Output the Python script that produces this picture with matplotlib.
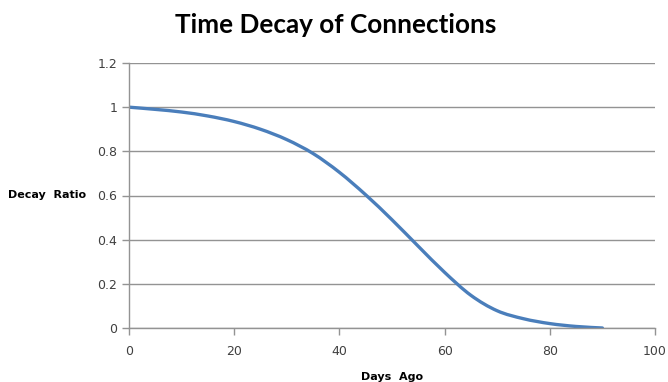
import matplotlib
matplotlib.use('Agg')
import matplotlib.pyplot as plt
from matplotlib.path import Path
from matplotlib.patches import PathPatch

# decay ratio read every 5 days
days = [0, 5, 10, 15, 20, 25, 30, 35, 40, 45, 50, 55, 60, 65, 70, 75, 80, 85, 90]
ratio = [1.0, 0.99, 0.978, 0.96, 0.935, 0.90, 0.853, 0.79, 0.705, 0.603, 0.49,
         0.37, 0.252, 0.148, 0.078, 0.042, 0.02, 0.007, 0.0]

xticks = [0, 20, 40, 60, 80, 100]
yticks = [0, 0.2, 0.4, 0.6, 0.8, 1.0, 1.2]
ytick_labels = ['0', '0.2', '0.4', '0.6', '0.8', '1', '1.2']

axis_grey = '#939393'
text_grey = '#404040'


# smoothed line through the points (cubic bezier segments, catmull-rom style)
def smooth_path(x, y):
    pts = list(zip(x, y))
    n = len(pts)
    verts = [pts[0]]
    codes = [Path.MOVETO]
    for i in range(n - 1):
        p0 = pts[max(i - 1, 0)]
        p1 = pts[i]
        p2 = pts[i + 1]
        p3 = pts[min(i + 2, n - 1)]
        c1 = (p1[0] + (p2[0] - p0[0]) / 6, p1[1] + (p2[1] - p0[1]) / 6)
        c2 = (p2[0] - (p3[0] - p1[0]) / 6, p2[1] - (p3[1] - p1[1]) / 6)
        verts += [c1, c2, p2]
        codes += [Path.CURVE4] * 3
    return Path(verts, codes)


fig = plt.figure(figsize=(6.68, 3.82), dpi=100)
ax = fig.add_axes([129 / 668, 1 - 328 / 382, 526 / 668, 265 / 382])

ax.add_patch(PathPatch(smooth_path(days, ratio), facecolor='none',
                       edgecolor='#4A7EBB', linewidth=2.4, capstyle='round'))

ax.set_xlim(0, 100)
ax.set_ylim(0, 1.2)
ax.set_xticks(xticks)
ax.set_yticks(yticks)
ax.set_yticklabels(ytick_labels)
ax.grid(axis='y', color=axis_grey, linewidth=1)
ax.set_axisbelow(True)

for side in ['top', 'right']:
    ax.spines[side].set_visible(False)
for side in ['left', 'bottom']:
    ax.spines[side].set_color(axis_grey)
    ax.spines[side].set_linewidth(1)
ax.tick_params(colors=axis_grey, labelcolor=text_grey, labelsize=9, length=5, width=1)
ax.tick_params(axis='x', pad=7)

ax.set_xlabel('Days  Ago', fontsize=8, fontweight='bold', color='black', labelpad=10)
ax.set_ylabel('Decay  Ratio', fontsize=8, fontweight='bold', color='black',
              rotation=0, ha='right', va='center')
ax.yaxis.set_label_coords(-0.082, 0.5)

fig.text(0.503, 1 - 33 / 382, 'Time Decay of Connections', ha='center', va='baseline',
         fontsize=18.8, fontweight='bold', family='Lato')

fig.savefig('out.png', dpi=100)
plt.close()
